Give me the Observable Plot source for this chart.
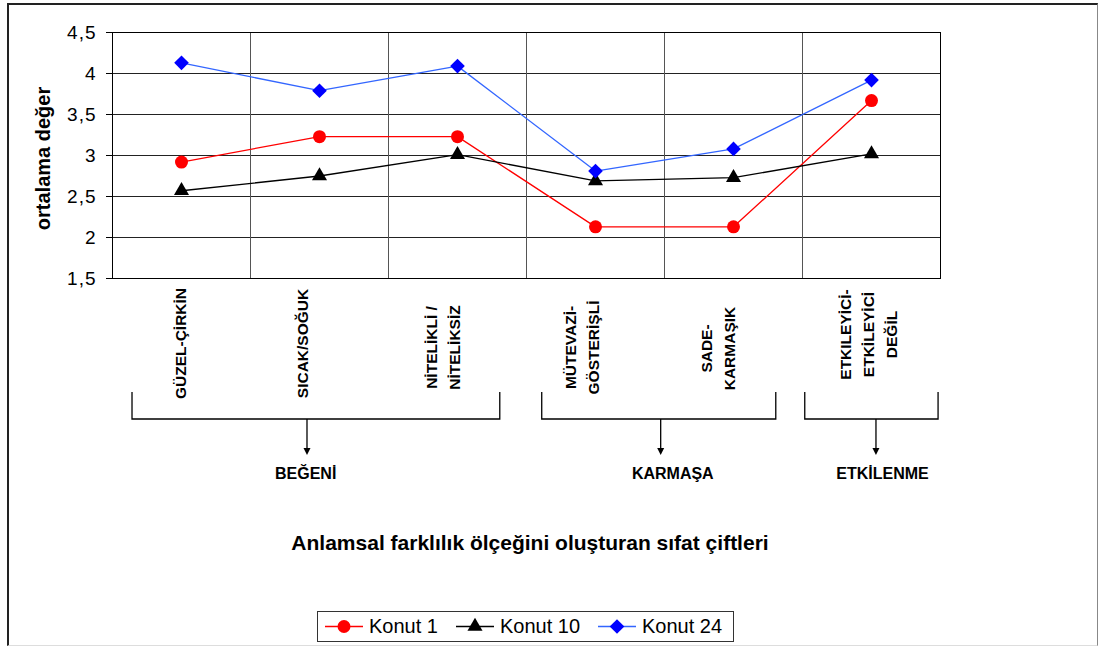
<!DOCTYPE html>
<html>
<head>
<meta charset="utf-8">
<script src="https://cdn.jsdelivr.net/npm/d3@7"></script>
<script src="https://cdn.jsdelivr.net/npm/@observablehq/plot@0.6"></script>
<style>
  body { margin: 0; background: #fff; }
  #wrap { position: relative; width: 1098px; height: 646px; overflow: hidden; font-family: "Liberation Sans", Arial, sans-serif; }
  #border { position: absolute; left: 7px; top: 3px; width: 1088px; height: 640px; border-left: 2px solid #222; border-top: 2px solid #222; border-right: 1px solid #888; border-bottom: 1px solid #ddd; }
  #chart { position: absolute; left: 0; top: 0; }
  #legend { position: absolute; left: 317px; top: 611px; width: 417px; height: 31px; box-sizing: border-box; border: 1px solid #333; display: flex; align-items: center; padding-left: 7px; font-size: 20px; color: #000; white-space: nowrap; }
  #legend .item { display: flex; align-items: center; margin-right: 18px; flex-shrink: 0; white-space: nowrap; }
  #legend svg { margin-right: 6px; flex-shrink: 0; }
  #chart svg [aria-label="y-axis tick label"] text { letter-spacing: 1px; }
</style>
</head>
<body>
<div id="wrap">
  <div id="border"></div>
  <div id="chart"></div>
  <div id="legend"></div>
</div>
<script>
// ---- data ----
const categories = ["GÜZEL-ÇİRKİN", "SICAK/SOĞUK", "NİTELİKLİ /\nNİTELİKSİZ", "MÜTEVAZİ-\nGÖSTERİŞLİ", "SADE-\nKARMAŞIK", "ETKILEYİCİ-\nETKİLEYİCİ\nDEĞİL"];
const seriesNames = ["Konut 1", "Konut 10", "Konut 24"];
const konut1  = [2.92, 3.23, 3.23, 2.13, 2.13, 3.67];
const konut10 = [2.57, 2.75, 3.01, 2.69, 2.73, 3.02];
const konut24 = [4.13, 3.79, 4.09, 2.81, 3.08, 3.92];
const yTicks = [1.5, 2, 2.5, 3, 3.5, 4, 4.5];
const groupNames = ["BEĞENİ", "KARMAŞA", "ETKİLENME"];
const groupMembers = [[0, 1, 2], [3, 4], [5]];
const yTitle = "ortalama değer";
const xTitle = "Anlamsal farklılık ölçeğini oluşturan sıfat çiftleri";

// ---- styles / layout ----
const seriesValues = [konut1, konut10, konut24];
const seriesStyle = [
  {line: "#ff0000", fill: "#ff0000", symbol: "circle", r: 6.5},
  {line: "#000000", fill: "#000000", symbol: "triangle", r: 5.6},
  {line: "#3366ff", fill: "#0000ff", symbol: "diamond2", r: 6.6}
];
const FONT = "Liberation Sans, Arial, sans-serif";
// bracket extents in category-index units (hand-drawn annotation)
const bracketLayout = [
  {l: 0.145, r: 2.81, a: 1.413, t: 1.40},
  {l: 3.114, r: 4.81, a: 3.976, t: 4.06},
  {l: 5.02, r: 5.986, a: 5.536, t: 5.58}
];
const labelShift = [4, -12, -9, -8, -10, 2];   // px, centre of label block vs category centre
const labelDy = [65, 65, 69, 69, 70, 56];       // px below frame
const LINE_STEP = 23;                           // px between wrapped label lines

const rows = seriesNames.flatMap((s, k) => seriesValues[k].map((v, i) => ({series: s, k, i, value: v})));

function brackets(index, scales, values, dims) {
  const x = scales.x;
  const y0 = dims.height - dims.marginBottom;
  const g = d3.create("svg:g").attr("aria-label", "group brackets");
  bracketLayout.forEach((b) => {
    g.append("path")
      .attr("d", `M${x(b.l)},${y0 + 114}V${y0 + 141}H${x(b.r)}V${y0 + 114}`)
      .attr("fill", "none").attr("stroke", "#000").attr("stroke-width", 1.3);
    g.append("line")
      .attr("x1", x(b.a)).attr("x2", x(b.a))
      .attr("y1", y0 + 141).attr("y2", y0 + 171)
      .attr("stroke", "#000").attr("stroke-width", 1.3);
    g.append("path")
      .attr("d", `M${x(b.a) - 3.5},${y0 + 170}L${x(b.a) + 3.5},${y0 + 170}L${x(b.a)},${y0 + 177}Z`)
      .attr("fill", "#000");
  });
  return g.node();
}

const labelMarks = categories.flatMap((c, i) => {
  const lines = c.split("\n");
  const n = lines.length;
  return lines.map((t, j) => Plot.text([t], {
    x: () => i + 0.5, text: d => d, frameAnchor: "bottom", rotate: -90,
    dx: labelShift[i] + (j - (n - 1) / 2) * LINE_STEP, dy: labelDy[i],
    fontSize: 15.5, fontWeight: "bold", fill: "#000", textAnchor: "middle"
  }));
});

const marks = [
  Plot.gridY(yTicks, {stroke: "#222", strokeOpacity: 1, strokeWidth: 1}),
  Plot.ruleX([1, 2, 3, 4, 5], {stroke: "#555", strokeWidth: 1}),
  Plot.frame({stroke: "#000"}),
  Plot.axisY({ticks: yTicks, tickFormat: d => String(d).replace(".", ","), tickSize: 6, tickPadding: 10, fontSize: 19, label: null, stroke: "#000"}),
  Plot.text([yTitle], {frameAnchor: "left", text: d => d, rotate: -90, textAnchor: "middle", dx: -69, dy: 3, fontSize: 20, fontWeight: "bold", fill: "#000"}),
  ...labelMarks,
  brackets,
  Plot.text(groupNames, {x: (d, i) => bracketLayout[i].t, text: d => d, frameAnchor: "bottom", dy: 200, fontSize: 16, fontWeight: "bold", fill: "#000"}),
  Plot.text([xTitle], {frameAnchor: "bottom", text: d => d, dx: 3.5, dy: 271, fontSize: 21, fontWeight: "bold", fill: "#000"})
];
seriesNames.forEach((s, k) => {
  const data = rows.filter(d => d.k === k);
  const st = seriesStyle[k];
  marks.push(Plot.line(data, {x: d => d.i + 0.5, y: "value", stroke: st.line, strokeWidth: 1.3}));
  marks.push(Plot.dot(data, {x: d => d.i + 0.5, y: "value", symbol: st.symbol, r: st.r, fill: st.fill, stroke: "none"}));
});

const chart = Plot.plot({
  width: 1098,
  height: 606,
  marginLeft: 112,
  marginRight: 158,
  marginTop: 32,
  marginBottom: 328,
  x: {domain: [0, 6], axis: null},
  y: {domain: [1.5, 4.5]},
  style: {fontFamily: FONT, background: "transparent", color: "#000"},
  marks
});
document.getElementById("chart").appendChild(chart);

// ---- legend ----
const legend = d3.select("#legend");
seriesNames.forEach((s, k) => {
  const st = seriesStyle[k];
  const item = legend.append("div").attr("class", "item");
  const svg = item.append("svg").attr("width", 38).attr("height", 29);
  svg.append("line").attr("x1", 0).attr("x2", 38).attr("y1", 14.5).attr("y2", 14.5).attr("stroke", st.line).attr("stroke-width", 1.3);
  const sym = {circle: d3.symbolCircle, triangle: d3.symbolTriangle, diamond2: d3.symbolDiamond2}[st.symbol];
  svg.append("path").attr("transform", "translate(19,14.5)").attr("d", d3.symbol(sym, Math.PI * st.r * st.r)()).attr("fill", st.fill);
  item.append("span").text(s);
});
</script>
</body>
</html>
